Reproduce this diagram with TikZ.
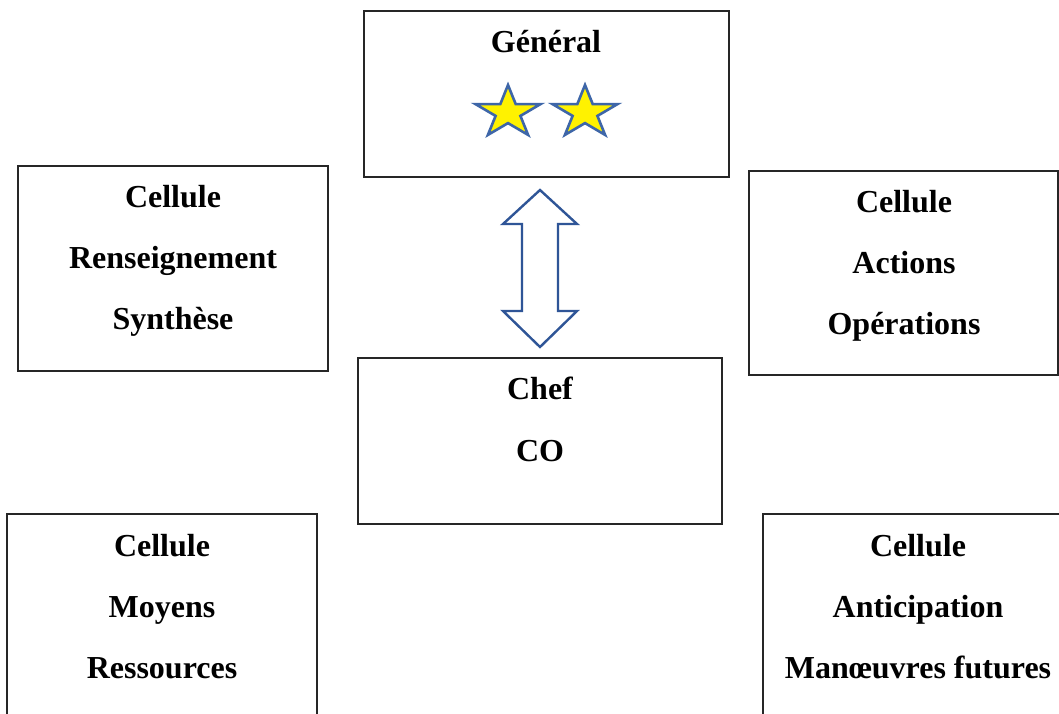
\documentclass[tikz,border=0pt]{standalone}
\usepackage{fontspec}
\setmainfont{Liberation Serif}
\begin{document}
\begin{tikzpicture}[x=1pt,y=-1pt,
  box/.style={draw=black!85,line width=1.5pt,fill=white},
  lbl/.style={font=\fontsize{32}{38}\selectfont\bfseries,anchor=base,inner sep=0pt},
  blockarrow/.style={draw=arrowblue,line width=2.4pt,line join=miter,fill=white},
  starstyle/.style={draw=starblue,line width=2.6pt,fill=yellow,line join=miter},
  gstar/.pic={\draw[starstyle] (0,-27.6) -- (-7.7,-8.5) -- (-32.5,-8.5) -- (-12.4,3.3) -- (-20.1,22.3) -- (0,10.5) -- (20.1,22.3) -- (12.4,3.3) -- (32.5,-8.5) -- (7.7,-8.5) -- cycle;}
]
\definecolor{arrowblue}{HTML}{2F5597}
\definecolor{starblue}{HTML}{3E66A8}
\useasboundingbox (0,0) rectangle (1059,713);
\fill[white] (0,0) rectangle (1059,713);

% boxes
\draw[box] (364,11) rectangle (729,177);
\node[inner sep=0pt] (gen) at (546.5,94) {};
\draw[box] (18,166) rectangle (328,371);
\draw[box] (749,171) rectangle (1058,375);
\draw[box] (358,358) rectangle (722,524);
\draw[box] (7,514) rectangle (317,740);
\draw[box] (763,514) rectangle (1080,740);

% General
\node[lbl] (tgen) at (546,52) {Général};
\pic (s1) at (508,112.6) {gstar};
\pic (s2) at (585,112.6) {gstar};

% double block arrow
\draw[blockarrow] (540,190) -- (577,224) -- (558,224) -- (558,311) -- (577,311) -- (540,347)
  -- (503,311) -- (522,311) -- (522,224) -- (503,224) -- cycle;

% left middle
\node[lbl] (l1) at (173,207) {Cellule};
\node[lbl] (l2) at (173,268) {Renseignement};
\node[lbl] (l3) at (173,329) {Synthèse};

% right middle
\node[lbl] (r1) at (904,212) {Cellule};
\node[lbl] (r2) at (904,273) {Actions};
\node[lbl] (r3) at (904,334) {Opérations};

% chef
\node[lbl] (c1) at (540,399) {Chef};
\node[lbl] (c2) at (540,461) {CO};

% bottom left
\node[lbl] (b1) at (162,556) {Cellule};
\node[lbl] (b2) at (162,617) {Moyens};
\node[lbl] (b3) at (162,678) {Ressources};

% bottom right
\node[lbl] (d1) at (918,556) {Cellule};
\node[lbl] (d2) at (918,617) {Anticipation};
\node[lbl] (d3) at (918,678) {Manœuvres futures};
\end{tikzpicture}
\end{document}
